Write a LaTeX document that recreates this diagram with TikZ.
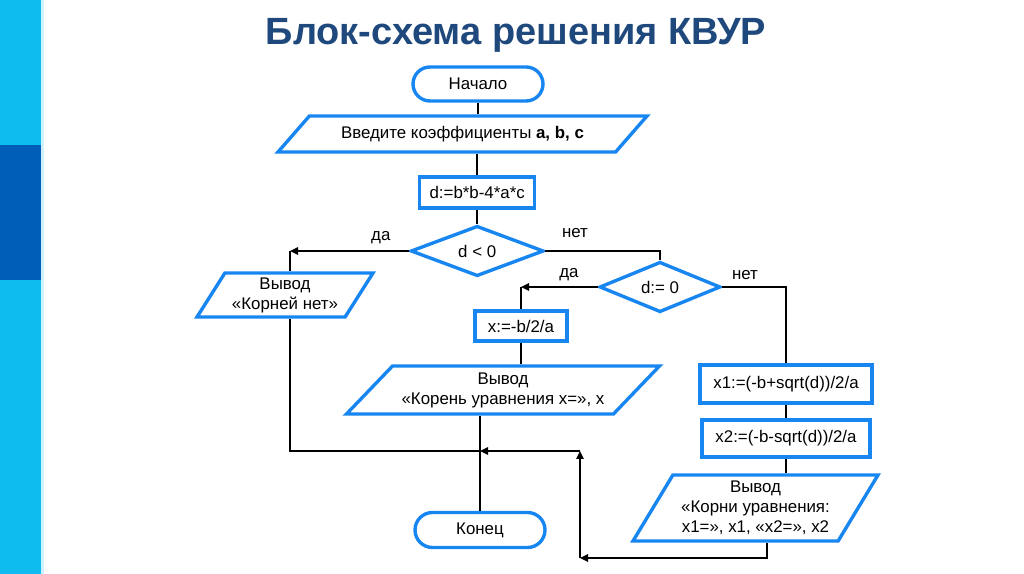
\documentclass[tikz,border=0pt]{standalone}
\usepackage{fontspec}
\setmainfont{Liberation Sans}
\usepackage{tikz}
\usetikzlibrary{shapes, arrows.meta, positioning, calc}
\definecolor{schemeblue}{RGB}{24, 134, 240}
\definecolor{titleblue}{RGB}{31, 73, 125}
\definecolor{barcyan}{RGB}{14, 188, 239}
\definecolor{bardark}{RGB}{0, 94, 184}

\begin{document}
\begin{tikzpicture}[
    font=\fontsize{12}{14.2}\selectfont,
    termblock/.style={rounded rectangle, draw=schemeblue, line width=2.4pt, minimum width=3.25cm, minimum height=0.85cm, inner sep=0pt},
    procblock/.style={rectangle, draw=schemeblue, line width=2.4pt, minimum height=0.78cm, inner sep=0pt},
    ioblock/.style={trapezium, trapezium stretches body, draw=schemeblue, line width=2.4pt, align=center, inner sep=0pt},
    condblock/.style={diamond, draw=schemeblue, line width=2.4pt, inner sep=0pt},
    flowline/.style={draw=black, line width=1.6pt},
    flowarrow/.style={flowline, -{Triangle[length=2mm, width=1.8mm]}}
]
    % Page and side bar
    \fill[white] (0,0) rectangle (25.6,14.35);
    \useasboundingbox (0,0) rectangle (25.6,14.35);
    \fill[barcyan] (0,0) rectangle (1.025,14.35);
    \fill[bardark] (0,7.35) rectangle (1.025,10.725);
    \fill[barcyan!20] (1.025,0) rectangle (1.1,14.35);

    % Title
    \node[font=\bfseries\fontsize{27}{31}\selectfont, text=titleblue, anchor=base] (title) at (12.9,13.225) {Блок-схема решения КВУР};

    % Blocks
    \node[termblock] (start) at (11.95,12.25) {Начало};
    \node[ioblock, trapezium left angle=26.6, trapezium right angle=153.4, minimum width=9.225cm, minimum height=0.9cm] (input) at (11.5625,11.0) {Введите коэффициенты \textbf{a, b, c}};
    \node[procblock, minimum width=2.875cm] (discr) at (11.93,9.5375) {d:=b*b-4*a*c};
    \node[condblock, minimum width=3.325cm, minimum height=0.95cm] (neg) at (11.93,8.075) {d < 0};
    \node[condblock, minimum width=3.025cm, minimum height=0.925cm] (zero) at (16.5,7.175) {d:= 0};
    \node[ioblock, trapezium left angle=51.5, trapezium right angle=128.5, minimum width=4.4cm, minimum height=1.1cm] (noroot) at (7.125,6.975) {Вывод\\«Корней нет»};
    \node[procblock, minimum width=2.3cm, minimum height=0.75cm] (oneroot) at (13.025,6.2) {x:=-b/2/a};
    \node[ioblock, trapezium left angle=37.3, trapezium right angle=142.7, minimum width=7.825cm, minimum height=1.2cm] (outone) at (12.575,4.6) {Вывод\\«Корень уравнения x=», x};
    \node[procblock, minimum width=4.3cm, minimum height=0.95cm] (rootone) at (19.65,4.75) {x1:=(-b+sqrt(d))/2/a};
    \node[procblock, minimum width=4.2cm, minimum height=0.925cm] (roottwo) at (19.65,3.3875) {x2:=(-b-sqrt(d))/2/a};
    \node[ioblock, trapezium left angle=53.4, trapezium right angle=126.6, minimum width=6.125cm, minimum height=1.65cm] (outtwo) at (18.8875,1.65) {Вывод\\«Корни уравнения:\\x1=», x1, «x2=», x2};
    \node[termblock, minimum height=0.875cm] (finish) at (12.0,1.1) {Конец};

    % Branch labels
    \node (yesone) at (9.52,8.4) {да};
    \node (noone) at (14.375,8.53) {нет};
    \node (yestwo) at (14.225,7.475) {да};
    \node (notwo) at (18.625,7.475) {нет};

    % Corner points
    \coordinate (yesL) at (7.25,8.075);
    \coordinate (merge) at (12.0,3.075);
    \coordinate (loopA) at (19.175,0.4);
    \coordinate (loopB) at (14.5,0.4);
    \coordinate (loopC) at (14.5,3.075);

    % Connectors
    \draw[flowline] (start.south) -- (start.south |- input.north);
    \draw[flowline] (discr.north |- input.south) -- (discr.north);
    \draw[flowline] (discr.south) -- (neg.north);
    \draw[flowarrow] (neg.west) -- (yesL);
    \draw[flowline] (yesL) -- (yesL |- noroot.north);
    \draw[flowline] (neg.east) -| (zero.north);
    \draw[flowarrow] (zero.west) -- (zero.west -| oneroot.north);
    \draw[flowline] (zero.west -| oneroot.north) -- (oneroot.north);
    \draw[flowline] (zero.east) -| (rootone.north);
    \draw[flowline] (oneroot.south) -- (oneroot.south |- outone.north);
    \draw[flowline] (rootone) -- (roottwo);
    \draw[flowline] (roottwo.south) -- (roottwo.south |- outtwo.north);
    \draw[flowline] (yesL |- noroot.south) -- (yesL |- merge) -- (merge);
    \draw[flowline] (finish.north |- outone.south) -- (finish.north);
    \draw[flowarrow] (outtwo.south -| loopA) -- (loopA) -- (loopB);
    \draw[flowarrow] (loopB) -- (loopC);
    \draw[flowarrow] (loopC) -- (merge);
\end{tikzpicture}
\end{document}
